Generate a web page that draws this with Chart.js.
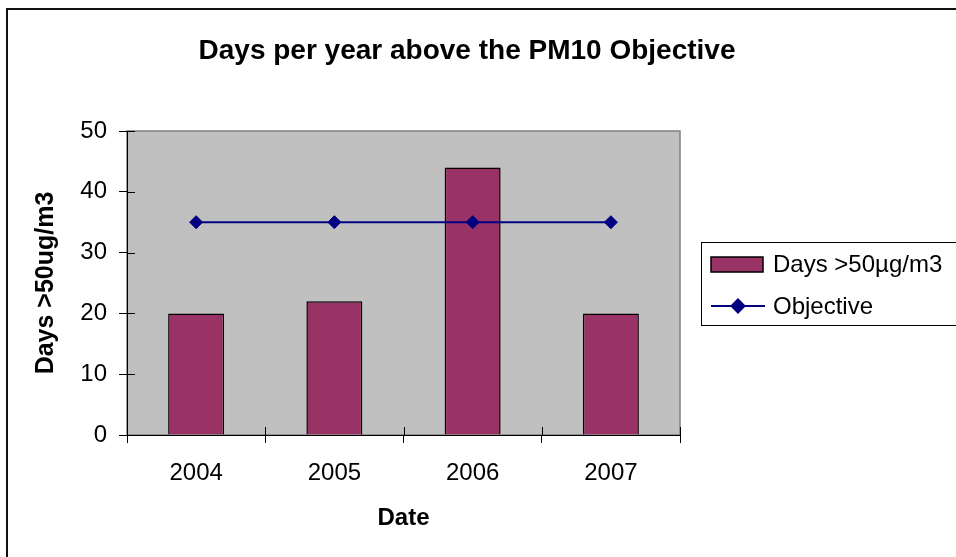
<!DOCTYPE html>
<html>
<head>
<meta charset="utf-8">
<title>Days per year above the PM10 Objective</title>
<script src="https://cdn.jsdelivr.net/npm/chart.js@4.4.0/dist/chart.umd.min.js"></script>
<style>
    html, body { margin: 0; padding: 0; background: #fff; }
    #box { width: 956px; height: 557px; }
</style>
</head>
<body>
<div id="box"><canvas id="canvas-chart" width="956" height="557"></canvas></div>
<script>
    var years = ['2004', '2005', '2006', '2007'];
    var daysOver = [20, 22, 44, 20];
    var objective = [35, 35, 35, 35];
    var yTicks = [0, 10, 20, 30, 40, 50];

    var FONT = '"Liberation Sans", Arial, sans-serif';

    //灰色绘图区 + 外框
    var frame = {
        id: 'frame',
        beforeDraw: function (chart) {
            var ctx = chart.ctx;
            var a = chart.chartArea;
            ctx.save();
            ctx.fillStyle = '#fff';
            ctx.fillRect(0, 0, chart.width, chart.height);
            ctx.strokeStyle = '#111';
            ctx.lineWidth = 2;
            ctx.strokeRect(7, 9, 1100, 700);

            ctx.fillStyle = '#C0C0C0';
            ctx.fillRect(a.left, a.top, a.right - a.left, a.bottom - a.top);
            ctx.strokeStyle = '#808080';
            ctx.lineWidth = 1.5;
            ctx.strokeRect(a.left, a.top, a.right - a.left, a.bottom - a.top);
            ctx.restore();
        },
    };

    //刻度线穿过坐标轴（内侧那一半）
    var crossTicks = {
        id: 'crossTicks',
        afterDraw: function (chart) {
            var ctx = chart.ctx;
            var x = chart.scales.x;
            var y = chart.scales.y;
            ctx.save();
            ctx.strokeStyle = '#000';
            ctx.lineWidth = 1;
            ctx.beginPath();
            for (var i = 0; i <= x.ticks.length; i++) {
                var px = Math.round(x.getPixelForValue(i - 0.5)) + 0.5;
                ctx.moveTo(px, x.top);
                ctx.lineTo(px, x.top - 8);
            }
            y.ticks.forEach(function (t) {
                var py = Math.round(y.getPixelForValue(t.value)) + 0.5;
                ctx.moveTo(y.right, py);
                ctx.lineTo(y.right + 8, py);
            });
            ctx.stroke();
            ctx.restore();
        },
    };

    //Excel 风格图例（带边框，折线带菱形）
    var boxLegend = {
        id: 'boxLegend',
        afterDraw: function (chart) {
            var ctx = chart.ctx;
            var sets = chart.data.datasets;
            var left = 701, top = 242;
            ctx.save();
            ctx.strokeStyle = '#000';
            ctx.lineWidth = 1;
            ctx.strokeRect(left + 0.5, top + 0.5, 400, 83);

            ctx.font = '24px ' + FONT;
            ctx.fillStyle = '#000';
            ctx.textBaseline = 'middle';
            ctx.textAlign = 'left';

            sets.forEach(function (set, index) {
                var cy = top + 22 + index * 42;
                if (set.type == 'bar') {
                    ctx.fillStyle = set.backgroundColor;
                    ctx.fillRect(left + 10, cy - 7, 52, 15);
                    ctx.strokeStyle = '#000';
                    ctx.lineWidth = 1.5;
                    ctx.strokeRect(left + 10, cy - 7, 52, 15);
                }
                else {
                    ctx.strokeStyle = set.borderColor;
                    ctx.lineWidth = 2;
                    ctx.beginPath();
                    ctx.moveTo(left + 10, cy);
                    ctx.lineTo(left + 64, cy);
                    ctx.stroke();
                    Chart.helpers.drawPoint(ctx, {
                        pointStyle: 'rectRot',
                        radius: 6.5,
                        borderWidth: 1,
                    }, left + 37, cy);
                    ctx.fillStyle = set.pointBackgroundColor;
                    ctx.fill();
                }
                ctx.fillStyle = '#000';
                ctx.fillText(set.label, left + 72, cy + 1);
            });
            ctx.restore();
        },
    };

    var canvas = document.getElementById('canvas-chart');
    var chart = new Chart(canvas.getContext('2d'), {
        data: {
            labels: years,
            datasets: [
                {
                    type: 'bar',
                    label: 'Days >50\u00b5g/m3',
                    data: daysOver,
                    backgroundColor: '#993366',
                    borderColor: '#000',
                    borderWidth: 1.5,
                    barPercentage: 0.405,
                    categoryPercentage: 1,
                    order: 2,
                },
                {
                    type: 'line',
                    label: 'Objective',
                    data: objective,
                    borderColor: '#000080',
                    borderWidth: 2,
                    pointStyle: 'rectRot',
                    pointRadius: 6.5,
                    pointBackgroundColor: '#000080',
                    pointBorderColor: '#000080',
                    pointBorderWidth: 1,
                    fill: false,
                    tension: 0,
                    order: 1,
                },
            ],
        },
        options: {
            responsive: false,
            animation: false,
            devicePixelRatio: 1,
            layout: { padding: { left: 0, right: 22, top: 0, bottom: 0 } },
            plugins: {
                legend: { display: false },
                tooltip: { enabled: false },
                title: {
                    display: true,
                    text: 'Days per year above the PM10 Objective',
                    color: '#000',
                    font: { family: FONT, size: 28, weight: 'bold', lineHeight: 1 },
                    padding: { top: 37, bottom: 66 },
                },
            },
            scales: {
                x: {
                    type: 'category',
                    offset: true,
                    grid: { offset: true, drawOnChartArea: false, drawTicks: true, tickLength: 8, color: '#000' },
                    border: { display: true, color: '#000', width: 1 },
                    ticks: { color: '#000', padding: 16, font: { family: FONT, size: 24 }, maxRotation: 0 },
                    title: {
                        display: true,
                        text: 'Date',
                        color: '#000',
                        font: { family: FONT, size: 24, weight: 'bold', lineHeight: 1 },
                        padding: { top: 0, bottom: 27 },
                    },
                    afterFit: function (scale) { scale.height = 122; },
                },
                y: {
                    min: 0,
                    max: 50,
                    afterBuildTicks: function (scale) {
                        scale.ticks = yTicks.map(function (v) { return { value: v }; });
                    },
                    grid: { drawOnChartArea: false, drawTicks: true, tickLength: 8, color: '#000' },
                    border: { display: true, color: '#000', width: 1 },
                    ticks: { color: '#000', padding: 12, font: { family: FONT, size: 24 } },
                    title: {
                        display: true,
                        text: 'Days >50ug/m3',
                        color: '#000',
                        font: { family: FONT, size: 25, weight: 'bold', lineHeight: 1 },
                        padding: { top: 34, bottom: 0 },
                    },
                    afterFit: function (scale) { scale.width = 127; },
                },
                //给右侧图例留位置
                legendSpace: {
                    type: 'linear',
                    position: 'right',
                    display: true,
                    grid: { display: false, drawTicks: false },
                    border: { display: false },
                    ticks: { display: false },
                    afterFit: function (scale) { scale.width = 254; },
                },
            },
        },
        plugins: [frame, crossTicks, boxLegend],
    });
</script>
</body>
</html>
